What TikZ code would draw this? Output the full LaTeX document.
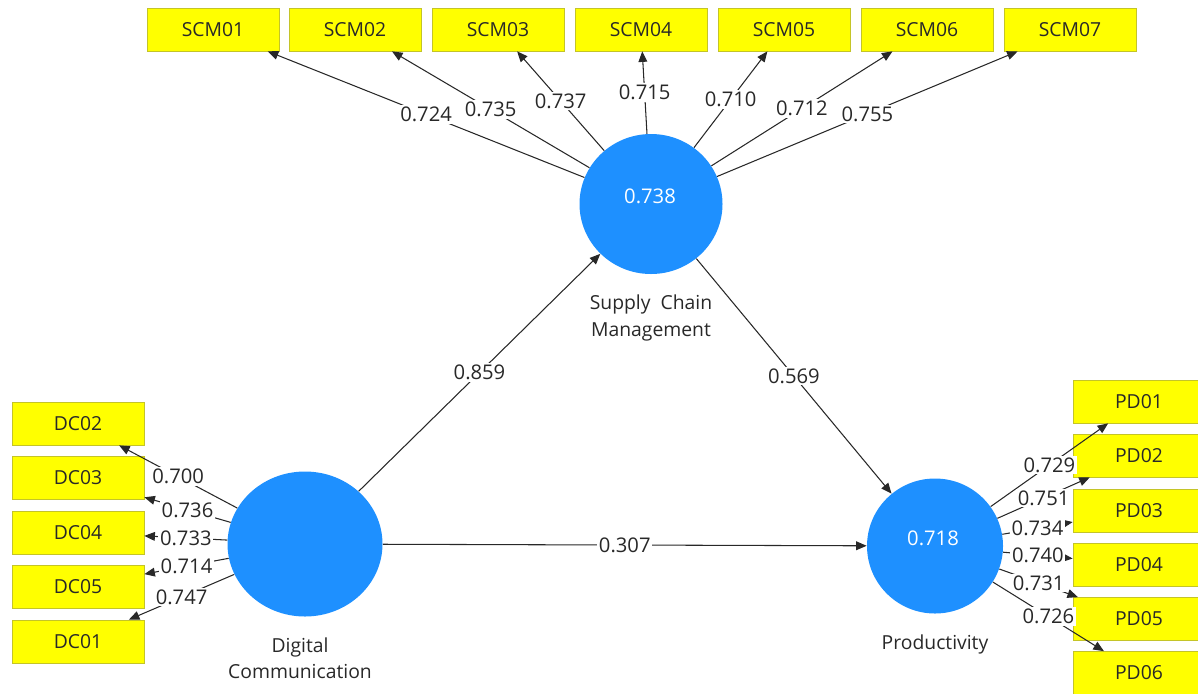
\documentclass[tikz,border=0pt]{standalone}
\usepackage{fontspec}
\setmainfont{Open Sans}
\usetikzlibrary{arrows.meta,positioning,shapes.geometric}
\definecolor{lvblue}{RGB}{30,144,255}
\definecolor{itemyellow}{RGB}{255,255,0}
\definecolor{itemborder}{RGB}{196,196,40}
\definecolor{linegray}{RGB}{40,40,40}

\begin{document}
\begin{tikzpicture}[x=0.2mm,y=-0.2mm,font=\fontsize{11}{15}\selectfont,text=linegray]
\path[use as bounding box,clip] (0,0) rectangle (1198,693);
\begin{scope}[every node/.style={rectangle,draw=itemborder,fill=itemyellow,
              minimum width=26.4mm,minimum height=8.6mm}]
    \node (SCM01) at (213,29.5) {SCM01};
    \node (SCM02) at (355,29.5) {SCM02};
    \node (SCM03) at (498,29.5) {SCM03};
    \node (SCM04) at (641,29.5) {SCM04};
    \node (SCM05) at (784,29.5) {SCM05};
    \node (SCM06) at (927,29.5) {SCM06};
    \node (SCM07) at (1070,29.5) {SCM07};
    \node (DC02) at (78,423.5) {DC02};
    \node (DC03) at (78,478) {DC03};
    \node (DC04) at (78,532.5) {DC04};
    \node (DC05) at (78,586.5) {DC05};
    \node (DC01) at (78,641.5) {DC01};
    \node (PD01) at (1139,401.5) {PD01};
    \node (PD02) at (1139,455.5) {PD02};
    \node (PD03) at (1139,510.5) {PD03};
    \node (PD04) at (1139,564.5) {PD04};
    \node (PD05) at (1139,619) {PD05};
    \node (PD06) at (1139,673) {PD06};
\end{scope}
\begin{scope}[every node/.style={ellipse,fill=lvblue,inner sep=0pt}]
    \node[minimum width=31mm,minimum height=29mm] (DC) at (305,544) {};
    \node[minimum width=28.6mm,minimum height=28mm] (SCM) at (651,204) {};
    \node[minimum width=27.2mm,minimum height=27mm] (PD) at (935,546) {};
\end{scope}
\node[text=white,font=\fontsize{11.5}{14}\selectfont] (SCMval) at (650,196) {0.738};
\node[text=white,font=\fontsize{11.5}{14}\selectfont] (PDval) at (933,538) {0.718};
\node[below=2.9mm of DC,xshift=-1mm,align=center] (DClab) {Digital\\Communication};
\node[below=2.9mm of SCM,align=center] (SCMlab) {Supply\ \ Chain\\Management};
\node[below=2.9mm of PD,align=center] (PDlab) {Productivity};
\begin{scope}[>={Triangle[length=6pt,width=5pt]},
              every edge/.style={draw=linegray,line width=0.6pt},
              every node/.style={fill=white,inner sep=1pt,
              font=\fontsize{11.5}{14}\selectfont}]
    \path [->] (SCM) edge node {0.724} (SCM01);
    \path [->] (SCM) edge node {0.735} (SCM02);
    \path [->] (SCM) edge node {0.737} (SCM03);
    \path [->] (SCM) edge node {0.715} (SCM04);
    \path [->] (SCM) edge node {0.710} (SCM05);
    \path [->] (SCM) edge node {0.712} (SCM06);
    \path [->] (SCM) edge node {0.755} (SCM07);
    \path [->] (DC) edge node {0.700} (DC02);
    \path [->] (DC) edge node {0.736} (DC03);
    \path [->] (DC) edge node {0.733} (DC04);
    \path [->] (DC) edge node {0.714} (DC05);
    \path [->] (DC) edge node {0.747} (DC01);
    \path [->] (PD) edge node {0.729} (PD01);
    \path [->] (PD) edge node {0.751} (PD02);
    \path [->] (PD) edge node {0.734} (PD03);
    \path [->] (PD) edge node {0.740} (PD04);
    \path [->] (PD) edge node {0.731} (PD05);
    \path [->] (PD) edge node {0.726} (PD06);
    \path [->] (DC) edge node {0.859} (SCM);
    \path [->] (DC) edge node {0.307} (PD);
    \path [->] (SCM) edge node {0.569} (PD);
\end{scope}
\end{tikzpicture}
\end{document}
